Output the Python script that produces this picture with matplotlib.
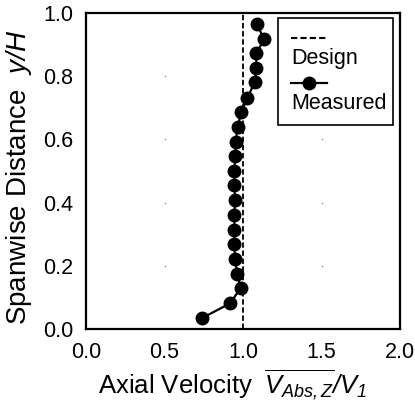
import matplotlib
matplotlib.use("Agg")
import matplotlib.pyplot as plt
import numpy as np
from matplotlib.lines import Line2D
from matplotlib.patches import Rectangle

plt.rcParams['font.family'] = ['Liberation Sans', 'DejaVu Sans']
plt.rcParams['mathtext.fontset'] = 'custom'
plt.rcParams['mathtext.rm'] = 'Liberation Sans:italic'
plt.rcParams['mathtext.it'] = 'Liberation Sans:italic'

# Data
span_y = [0.034, 0.081, 0.129, 0.174, 0.22, 0.268, 0.313, 0.361, 0.408, 0.456, 0.50,
          0.548, 0.593, 0.64, 0.688, 0.73, 0.783, 0.825, 0.872, 0.917, 0.965]
measured_v = [0.737, 0.917, 0.985, 0.964, 0.949, 0.945, 0.945, 0.945, 0.949, 0.945, 0.945,
              0.951, 0.953, 0.966, 0.99, 1.027, 1.076, 1.085, 1.085, 1.134, 1.089]
design_v = 1.0
x_ticks = [0.0, 0.5, 1.0, 1.5, 2.0]
y_ticks = [0.0, 0.2, 0.4, 0.6, 0.8, 1.0]

fig = plt.figure(figsize=(4.15, 4.05), dpi=100)
ax = fig.add_axes([86/415, 1-329/405, (400-86)/415, (329-13)/405])

# faint grid dots at interior tick intersections
gx, gy = np.meshgrid(x_ticks[1:-1], y_ticks[1:-1])
ax.scatter(gx.ravel(), gy.ravel(), s=1.2, color='#888888', zorder=1, linewidths=0)

ax.axvline(design_v, color='black', linestyle=(0, (3, 1.5)), linewidth=1.3, zorder=2)
ax.plot(measured_v, span_y, color='black', linewidth=1.6, marker='o', markersize=9, zorder=3)

ax.set_xlim(0, 2)
ax.set_ylim(0, 1)
ax.set_xticks(x_ticks)
ax.set_yticks(y_ticks)
ax.set_xticklabels([f"{v:.1f}" for v in x_ticks])
ax.set_yticklabels([f"{v:.1f}" for v in y_ticks])
ax.tick_params(length=0, labelsize=15.5, colors='black')
ax.tick_params(axis='x', pad=9)
ax.tick_params(axis='y', pad=9)
for s in ax.spines.values():
    s.set_linewidth(1.6)

ax.set_xlabel(r"Axial Velocity $\;\overline{V_{Abs,Z}}/V_{1}$", fontsize=18.5, labelpad=4)
ax.xaxis.label.set_x(0.468)
ax.set_ylabel(r"Spanwise Distance  $y/H$", fontsize=20)
ax.yaxis.set_label_coords(-0.166, 0.478)

# custom legend (handle above label)
ax.add_patch(Rectangle((0.611, 0.646), 0.367, 0.338, transform=ax.transAxes,
                       facecolor='white', edgecolor='black', linewidth=1.2, zorder=4))
ax.add_line(Line2D([0.653, 0.766], [0.92, 0.92], transform=ax.transAxes, color='black',
                   linestyle=(0, (3, 1.5)), linewidth=1.5, zorder=5))
ax.text(0.653, 0.857, "Design", transform=ax.transAxes, fontsize=15.5, va='center', ha='left', zorder=5)
ax.add_line(Line2D([0.653, 0.71, 0.766], [0.778, 0.778, 0.778], transform=ax.transAxes, color='black',
                   linewidth=1.6, marker='o', markersize=9, markevery=[1], zorder=5))
ax.text(0.653, 0.715, "Measured", transform=ax.transAxes, fontsize=15.5, va='center', ha='left', zorder=5)

fig.savefig("out.png", dpi=100)
